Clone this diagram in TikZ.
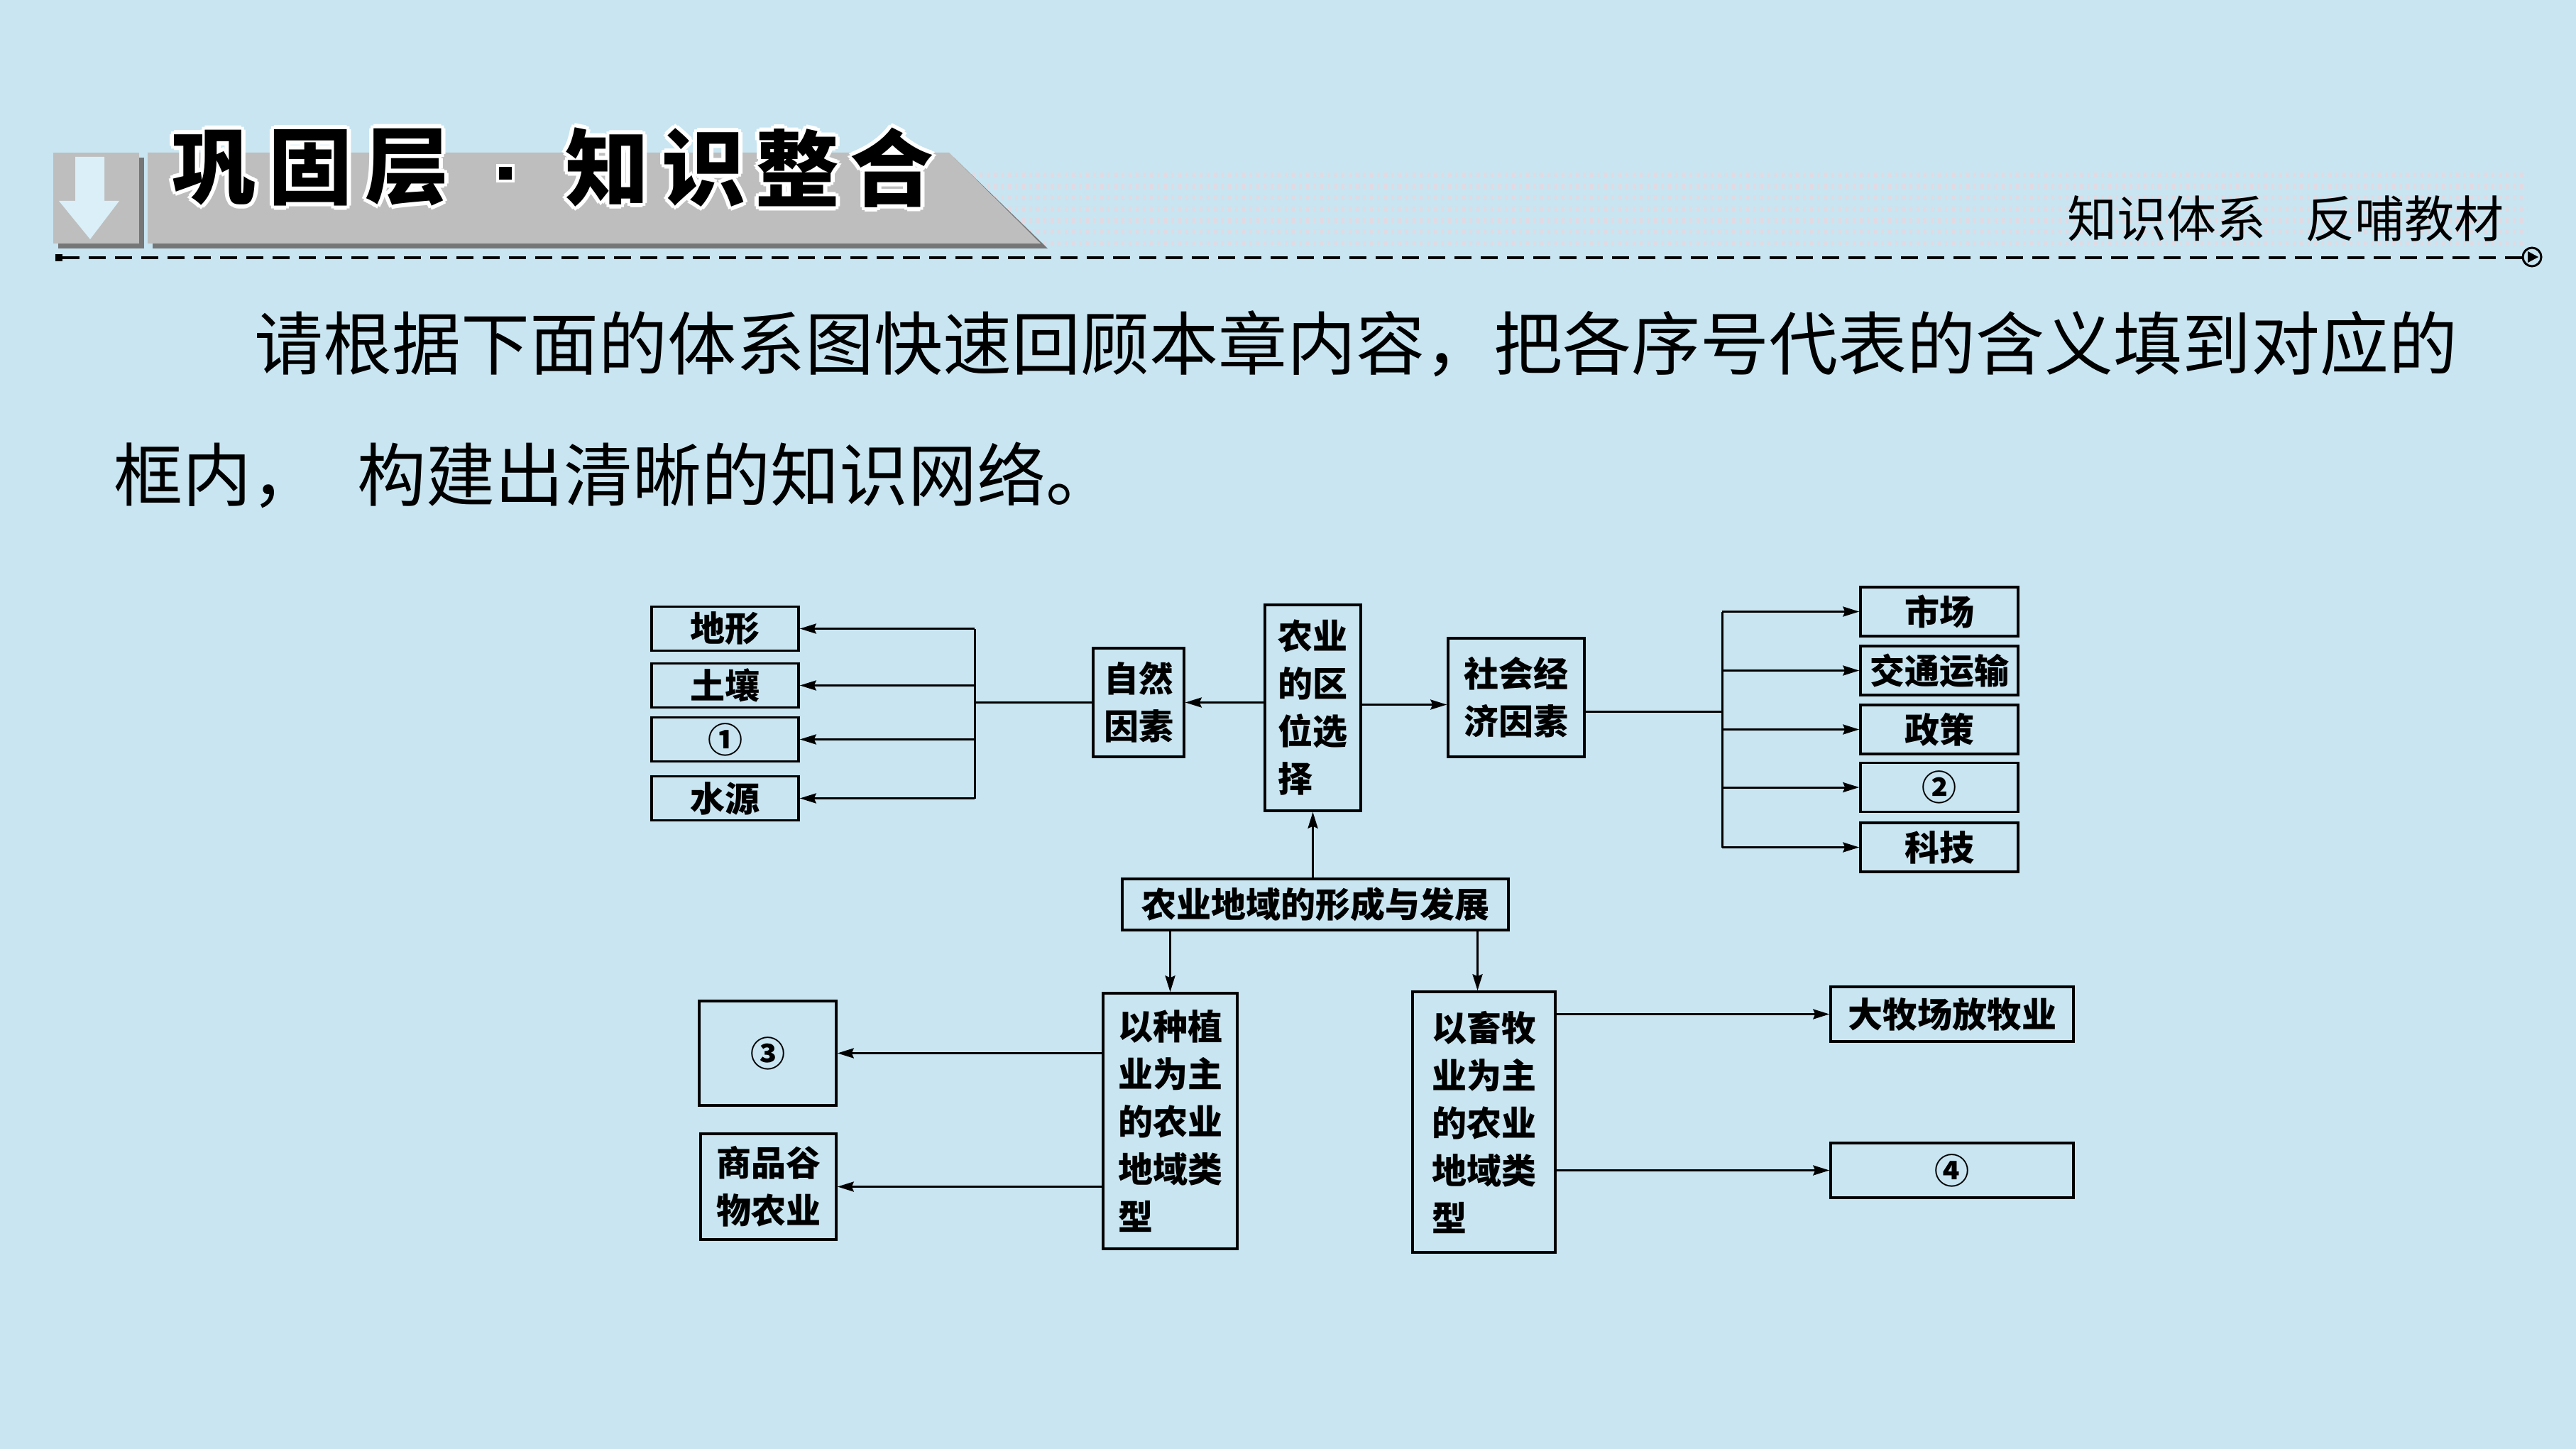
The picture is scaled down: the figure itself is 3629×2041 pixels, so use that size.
\documentclass[tikz,border=0pt]{standalone}
\usepackage{fontspec}
\setmainfont{Noto Sans CJK SC}
\usetikzlibrary{arrows.meta,calc}
\definecolor{bgblue}{RGB}{200,229,241}
\definecolor{bannergray}{RGB}{190,190,190}
\definecolor{shadowgray}{RGB}{118,118,118}
\definecolor{cutout}{RGB}{218,239,248}
\definecolor{bandpink}{RGB}{236,214,222}
\newcommand\dfont{\fontsize{49}{67}\selectfont\bfseries}
\newcommand\tfont{\fontsize{118}{118}\selectfont\bfseries}
\newcommand\halocopy[3]{\rlap{\hspace*{#1}\raisebox{#2}{\textcolor{white}{#3}}}}
\newcommand\haloglyph[1]{\leavevmode
  \halocopy{-6pt}{0pt}{#1}\halocopy{6pt}{0pt}{#1}%
  \halocopy{0pt}{6pt}{#1}\halocopy{0pt}{-6pt}{#1}%
  \halocopy{-4pt}{-4pt}{#1}\halocopy{4pt}{4pt}{#1}%
  \halocopy{-4pt}{4pt}{#1}\halocopy{4pt}{-4pt}{#1}%
  #1}
\begin{document}
\begin{tikzpicture}[x=1pt,y=-1pt,
  box/.style={draw=black,line width=3.5pt,inner sep=0pt,font=\dfont,align=center},
  arr/.style={line width=3pt,-{Stealth[length=23pt,width=14pt,inset=3pt]}},
  ln/.style={line width=3pt},
  plain/.style={inner sep=0pt}
]
\useasboundingbox (0,0) rectangle (3629,2041);
\fill[bgblue] (0,0) rectangle (3629,2041);

% decorative band
\foreach \yy in {247,263,279,295,311,327,343} {
  \draw[bandpink, line width=7pt, dash pattern=on 4pt off 6pt, opacity=0.7] (1340,\yy) -- (3560,\yy);
}

% down-arrow tab
\fill[shadowgray] (82,222) rectangle (203,350);
\fill[bannergray] (75,215) rectangle (196,343);
\fill[cutout] (106,221) -- (147,221) -- (147,283) -- (168,283) -- (127,337) -- (83,283) -- (106,283) -- cycle;
% banner
\fill[shadowgray] (215,222) -- (1344,222) -- (1476,350) -- (215,350) -- cycle;
\fill[bannergray] (208,215) -- (1337,215) -- (1466,343) -- (208,343) -- cycle;

% title with white halo
\foreach \ch/\xx [count=\i] in {巩/301,固/437,层/573,知/855,识/991,整/1123,合/1256} {
  \node[plain,font=\tfont] (title\i) at (\xx,236) {\haloglyph{\ch}};
}
\fill[white] (699,231) rectangle (725,257);
\fill[black] (703,235) rectangle (721,253);

% dashed rule
\fill (78,358) rectangle (88,368);
\draw[line width=4pt, dash pattern=on 24pt off 13pt] (88,363) -- (3553,363);
\draw[line width=3pt] (3567,362) circle (13pt);
\fill (3561,354) -- (3576,362) -- (3561,370) -- cycle;

% subtitle
\node[anchor=west,plain,font=\fontsize{70}{70}\selectfont] (subtitle) at (2912,308) {知识体系\hspace{55pt}反哺教材};

% paragraph
\node[anchor=west,plain,font=\fontsize{97}{97}\selectfont] (para1) at (358,484) {请根据下面的体系图快速回顾本章内容，把各序号代表的含义填到对应的};
\node[anchor=west,plain,font=\fontsize{97}{97}\selectfont] (para2) at (160,669) {框内，\hspace{52pt}构建出清晰的知识网络。};

% diagram nodes
\node[box,minimum width=207pt,minimum height=62pt] (dixing) at (1021.5,885.5) {地形};
\node[box,minimum width=207pt,minimum height=62pt] (turang) at (1021.5,965.5) {土壤};
\node[box,minimum width=207pt,minimum height=62pt] (one) at (1021.5,1041.5) {①};
\node[box,minimum width=207pt,minimum height=62pt] (shuiyuan) at (1021.5,1124.5) {水源};
\node[box,minimum width=128pt,minimum height=153pt] (ziran) at (1604,989.5) {自然\\因素};
\node[box,minimum width=135pt,minimum height=290pt,align=left] (nongye) at (1849.5,997) {农业\\的区\\位选\\择};
\node[box,minimum width=192pt,minimum height=167pt] (shehui) at (2136,982.5) {社会经\\济因素};
\node[box,minimum width=222pt,minimum height=69pt] (shichang) at (2732,861.5) {市场};
\node[box,minimum width=222pt,minimum height=69pt] (jiaotong) at (2732,944.5) {交通运输};
\node[box,minimum width=222pt,minimum height=69pt] (zhengce) at (2732,1027.5) {政策};
\node[box,minimum width=222pt,minimum height=69pt] (two) at (2732,1109) {②};
\node[box,minimum width=222pt,minimum height=69pt] (keji) at (2732,1193.5) {科技};
\node[box,minimum width=544pt,minimum height=72pt] (fazhan) at (1853,1274) {农业地域的形成与发展};
\node[box,minimum width=189pt,minimum height=360pt,align=left] (zhongzhi) at (1648.5,1579) {以种植\\业为主\\的农业\\地域类\\型};
\node[box,minimum width=201pt,minimum height=367pt,align=left] (xumu) at (2090.5,1580.5) {以畜牧\\业为主\\的农业\\地域类\\型};
\node[box,minimum width=193pt,minimum height=147pt] (three) at (1081.5,1483.5) {③};
\node[box,minimum width=191pt,minimum height=149pt] (shangpin) at (1082.5,1671.5) {商品谷\\物农业};
\node[box,minimum width=342pt,minimum height=77pt] (damu) at (2750,1428.5) {大牧场放牧业};
\node[box,minimum width=342pt,minimum height=77pt] (four) at (2750,1648.5) {④};

% connectors: natural factors
\coordinate (lt) at (1373,990);
\draw[ln] (ziran.west) -- (lt |- ziran.west);
\draw[ln] (lt |- dixing.east) -- (lt |- shuiyuan.east);
\foreach \n in {dixing,turang,one,shuiyuan} {
  \draw[arr] (lt |- \n.east) -- (\n.east);
}
\draw[arr] (nongye.west |- ziran.east) -- (ziran.east);

% connectors: socio-economic factors
\coordinate (sw) at ([yshift=-10pt]shehui.west);
\draw[arr] (nongye.east |- sw) -- (sw);
\coordinate (se) at ([yshift=-20pt]shehui.east);
\coordinate (rt) at (2426,1000);
\draw[ln] (se) -- (rt |- se);
\draw[ln] (rt |- shichang.west) -- (rt |- keji.west);
\foreach \n in {shichang,jiaotong,zhengce,two,keji} {
  \draw[arr] (rt |- \n.west) -- (\n.west);
}

% connectors: formation and development
\draw[arr] (fazhan.north -| nongye.south) -- (nongye.south);
\draw[arr] (fazhan.south -| zhongzhi.north) -- (zhongzhi.north);
\coordinate (xn) at ([xshift=-9pt]xumu.north);
\draw[arr] (fazhan.south -| xn) -- (xn);
\draw[arr] (zhongzhi.west |- three.east) -- (three.east);
\draw[arr] (zhongzhi.west |- shangpin.east) -- (shangpin.east);
\draw[arr] (xumu.east |- damu.west) -- (damu.west);
\draw[arr] (xumu.east |- four.west) -- (four.west);
\end{tikzpicture}
\end{document}
